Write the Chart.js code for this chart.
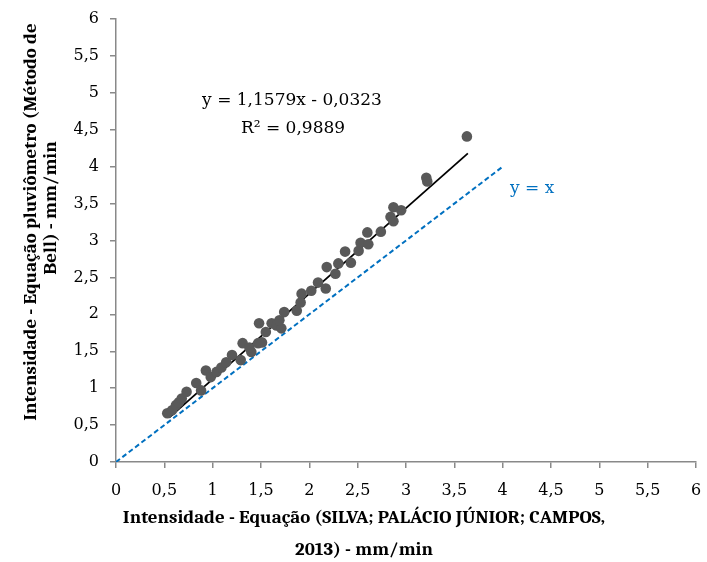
<!DOCTYPE html>
<html>
<head>
<meta charset="utf-8">
<script src="https://cdn.jsdelivr.net/npm/chart.js@4"></script>
<style>
  html, body { margin: 0; padding: 0; background: #fff; }
</style>
</head>
<body>
<canvas id="grafico" width="707" height="562"></canvas>
<script>
// pontos observados (Silva; Palácio Júnior; Campos x Método de Bell)
const intensidadeSilva = [0.53, 0.58, 0.62, 0.65, 0.68, 0.73, 0.83, 0.88, 0.93, 0.98,
    1.04, 1.09, 1.14, 1.20, 1.29, 1.31, 1.40, 1.38, 1.47, 1.51,
    1.48, 1.55, 1.61, 1.66, 1.71, 1.69, 1.74, 1.87, 1.91, 1.92,
    2.02, 2.09, 2.17, 2.18, 2.27, 2.30, 2.37, 2.43, 2.51, 2.53,
    2.61, 2.60, 2.74, 2.84, 2.87, 2.87, 2.95, 3.21, 3.22, 3.63];
const intensidadeBell = [0.66, 0.70, 0.77, 0.81, 0.86, 0.95, 1.07, 0.97, 1.24, 1.15,
    1.22, 1.28, 1.35, 1.45, 1.38, 1.61, 1.49, 1.55, 1.61, 1.62,
    1.88, 1.76, 1.88, 1.85, 1.81, 1.92, 2.03, 2.05, 2.16, 2.28,
    2.32, 2.43, 2.35, 2.64, 2.55, 2.69, 2.85, 2.70, 2.86, 2.97,
    2.95, 3.11, 3.12, 3.32, 3.26, 3.45, 3.41, 3.85, 3.80, 4.41];

// linha de tendência (extremos)
const tendenciaX = [0.55, 3.64];
const tendenciaY = [0.60, 4.18];

// reta y = x
const identidadeX = [0, 4];
const identidadeY = [0, 4];

const ticksEixo = [0, 0.5, 1, 1.5, 2, 2.5, 3, 3.5, 4, 4.5, 5, 5.5, 6];

const fonteTexto = "'DejaVu Serif', serif";
const fonteTitulo = "Cambria, 'Liberation Serif', serif";
const cinzaEixo = '#898989';

function pares(xs, ys) {
    return xs.map((x, i) => ({ x: x, y: ys[i] }));
}

const textos = {
    id: 'textos',
    afterDraw(chart) {
        const ctx = chart.ctx;
        ctx.save();
        ctx.textAlign = 'center';
        ctx.textBaseline = 'alphabetic';
        ctx.fillStyle = '#000';
        ctx.font = '17px ' + fonteTexto;
        ctx.fillText('y = 1,1579x - 0,0323', 292, 105);
        ctx.fillText('R² = 0,9889', 293, 133);
        ctx.fillStyle = '#0070C0';
        ctx.textAlign = 'left';
        ctx.fillText('y = x', 510, 193);

        // títulos dos eixos
        ctx.fillStyle = '#000';
        ctx.textAlign = 'center';
        ctx.textBaseline = 'middle';
        ctx.font = 'bold 19px ' + fonteTitulo;
        ctx.fillText('Intensidade - Equação (SILVA; PALÁCIO JÚNIOR; CAMPOS,', 364, 518);
        ctx.fillText('2013) - mm/min', 364, 550);
        ctx.save();
        ctx.translate(31, 222);
        ctx.rotate(-Math.PI / 2);
        ctx.fillText('Intensidade - Equação pluviômetro (Método de', 0, 0);
        ctx.restore();
        ctx.save();
        ctx.translate(51, 208);
        ctx.rotate(-Math.PI / 2);
        ctx.fillText('Bell) - mm/min', 0, 0);
        ctx.restore();
        ctx.restore();
    }
};

new Chart(document.getElementById('grafico'), {
    type: 'scatter',
    data: {
        datasets: [
            {
                label: 'Pontos',
                data: pares(intensidadeSilva, intensidadeBell),
                backgroundColor: '#595959',
                borderWidth: 0,
                pointRadius: 5.3,
                pointHoverRadius: 5.3
            },
            {
                label: 'Tendência',
                type: 'line',
                data: pares(tendenciaX, tendenciaY),
                borderColor: '#000',
                borderWidth: 1.8,
                pointRadius: 0,
                fill: false
            },
            {
                label: 'y = x',
                type: 'line',
                data: pares(identidadeX, identidadeY),
                borderColor: '#0070C0',
                borderWidth: 2,
                borderDash: [5, 3],
                pointRadius: 0,
                fill: false
            }
        ]
    },
    options: {
        responsive: false,
        animation: false,
        layout: { padding: { left: 66, right: 11, top: 19, bottom: 55 } },
        plugins: {
            legend: { display: false },
            tooltip: { enabled: false }
        },
        scales: {
            x: {
                type: 'linear',
                min: 0,
                max: 6,
                afterBuildTicks: (s) => { s.ticks = ticksEixo.map(v => ({ value: v })); },
                afterFit: (s) => { s.height = 45; s.paddingLeft = 0; s.paddingRight = 0; },
                border: { color: cinzaEixo, width: 1.5 },
                grid: { drawOnChartArea: false, color: cinzaEixo, tickLength: 6, lineWidth: 1.5 },
                ticks: {
                    color: '#000',
                    font: { family: fonteTexto, size: 16 },
                    padding: 13,
                    maxRotation: 0,
                    callback: (v) => String(v).replace('.', ',')
                }
            },
            y: {
                type: 'linear',
                min: 0,
                max: 6,
                afterBuildTicks: (s) => { s.ticks = ticksEixo.map(v => ({ value: v })); },
                afterFit: (s) => { s.width = 50; s.paddingTop = 0; s.paddingBottom = 0; },
                border: { color: cinzaEixo, width: 1.5 },
                grid: { drawOnChartArea: false, color: cinzaEixo, tickLength: 6, lineWidth: 1.5 },
                ticks: {
                    color: '#000',
                    font: { family: fonteTexto, size: 16 },
                    padding: 11,
                    callback: (v) => String(v).replace('.', ',')
                }
            }
        }
    },
    plugins: [textos]
});
</script>
</body>
</html>
